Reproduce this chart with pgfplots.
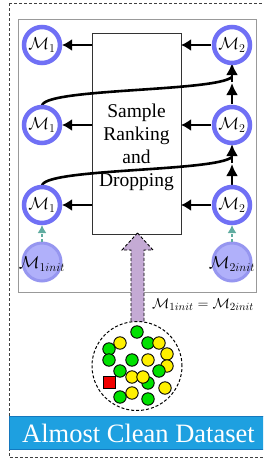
\documentclass[border=0pt]{standalone}
\usepackage[no-math]{fontspec}
\setmainfont{Liberation Serif}
\usepackage{pgfplots}
\pgfplotsset{compat=1.18}
\usetikzlibrary{arrows.meta}
\definecolor{ring}{RGB}{112,112,245}
\definecolor{initfill}{RGB}{176,176,250}
\definecolor{initring}{RGB}{150,150,240}
\definecolor{teal2}{RGB}{95,172,160}
\definecolor{purp}{RGB}{196,170,212}
\definecolor{barblue}{RGB}{30,160,224}
\definecolor{barborder}{RGB}{20,120,190}
\definecolor{dgreen}{RGB}{0,225,0}
\definecolor{dyellow}{RGB}{255,240,0}
\definecolor{dred}{RGB}{240,0,0}
\begin{document}
\begin{tikzpicture}
\begin{axis}[
  width=263pt, height=461pt, scale only axis,
  xmin=0, xmax=263, ymin=0, ymax=461, y dir=reverse,
  hide axis, clip=true,
]
% outer dashed frame
\draw[densely dashed, line width=1pt, black!75] (axis cs:9,3) -- (axis cs:270,3);
\draw[densely dashed, line width=1pt, black!75] (axis cs:9,3) -- (axis cs:9,457) -- (axis cs:270,457);
% inner gray rectangle
\draw[line width=1pt, black!40] (axis cs:18,19) rectangle (axis cs:256,292);
% center box
\draw[line width=1pt, black!80] (axis cs:92,33) rectangle (axis cs:181,234);
\node[align=center, font=\fontsize{19.5}{23}\selectfont] at (axis cs:136.5,147) {Sample\\Ranking\\and\\Dropping};
% horizontal arrows
\pgfplotsinvokeforeach{45,125,205}{
  \draw[line width=2.6pt, -{Latex[length=10pt,width=12pt]}] (axis cs:92,#1) -- (axis cs:62,#1);
  \draw[line width=2.6pt, -{Latex[length=10pt,width=12pt]}] (axis cs:211,#1) -- (axis cs:181,#1);
}
% vertical arrows on M2 column and curves
\draw[line width=2.6pt, -{Latex[length=12pt,width=12pt]}] (axis cs:232,104) -- (axis cs:232,83);
\draw[line width=2.6pt, -{Latex[length=12pt,width=12pt]}] (axis cs:232,82) -- (axis cs:232,63);
\draw[line width=2.6pt] (axis cs:42,106) .. controls (axis cs:42,88) and (axis cs:215,92) .. (axis cs:232,77);
\draw[line width=2.6pt, -{Latex[length=12pt,width=12pt]}] (axis cs:232,185) -- (axis cs:232,164);
\draw[line width=2.6pt, -{Latex[length=12pt,width=12pt]}] (axis cs:232,163) -- (axis cs:232,144);
\draw[line width=2.6pt] (axis cs:42,186) .. controls (axis cs:42,168) and (axis cs:215,172) .. (axis cs:232,157);
% M circles
\pgfplotsinvokeforeach{45,125,205}{
  \node[circle, draw=ring, line width=4.5pt, fill=white, minimum size=36pt, inner sep=0pt, font=\fontsize{18}{18}\selectfont] at (axis cs:42,#1) {$\mathcal{M}_1$};
  \node[circle, draw=ring, line width=4.5pt, fill=white, minimum size=36pt, inner sep=0pt, font=\fontsize{18}{18}\selectfont] at (axis cs:232,#1) {$\mathcal{M}_2$};
}
% init circles
\node[circle, draw=initring, line width=3pt, fill=initfill, minimum size=38pt, inner sep=0pt] at (axis cs:42,262) {};
\node[circle, draw=initring, line width=3pt, fill=initfill, minimum size=38pt, inner sep=0pt] at (axis cs:232,262) {};
\node[font=\fontsize{17}{17}\selectfont, inner sep=0pt] at (axis cs:42,264) {$\mathcal{M}_{1init}$};
\node[font=\fontsize{17}{17}\selectfont, inner sep=0pt] at (axis cs:232,264) {$\mathcal{M}_{2init}$};
% teal dashed arrows
\draw[teal2, line width=2.6pt, dash pattern=on 3pt off 2pt, -{Latex[length=8pt,width=9pt]}] (axis cs:42,242) -- (axis cs:42,225);
\draw[teal2, line width=2.6pt, dash pattern=on 3pt off 2pt, -{Latex[length=8pt,width=9pt]}] (axis cs:232,242) -- (axis cs:232,225);
% purple big arrow
\draw[fill=purp, densely dashed, line width=0.9pt] (axis cs:137.5,233) -- (axis cs:153,250) -- (axis cs:144,250) -- (axis cs:144,323) -- (axis cs:131,323) -- (axis cs:131,250) -- (axis cs:122,250) -- cycle;
\node[anchor=base west, font=\fontsize{15.3}{15.3}\selectfont, inner sep=0pt] at (axis cs:152,308) {$\mathcal{M}_{1init}=\mathcal{M}_{2init}$};
% dataset circle
\draw[densely dashed, line width=1pt, fill=white] (axis cs:137,366) ellipse [x radius=45pt, y radius=44.5pt];
\addplot[only marks, mark=*, mark size=6.2pt, mark options={fill=dgreen, draw=black, line width=0.9pt}] coordinates {
(137,332) (109,349) (148,343) (109,360) (132,360) (120,371) (148,383) (120,397) (148,399)
};
\addplot[only marks, mark=*, mark size=6.2pt, mark options={fill=dyellow, draw=black, line width=0.9pt}] coordinates {
(120,343) (159,343) (167,354) (148,360) (167,366) (132,377) (143,377) (132,393) (165,388)
};
\addplot[only marks, mark=*, mark size=6.2pt, mark options={fill=dgreen, draw=black, line width=0.9pt}] coordinates {
(159,371)
};
\addplot[only marks, mark=square*, mark size=6pt, mark options={fill=dred, draw=black, line width=0.9pt}] coordinates {
(109,382)
};
% bottom bar
\draw[fill=barblue, draw=barborder, line width=1pt] (axis cs:9,416) rectangle (axis cs:270,449);
\node[text=white, font=\fontsize{26.5}{26.5}\selectfont, anchor=base] at (axis cs:138.5,442) {Almost Clean Dataset};
\end{axis}
\pgfresetboundingbox
\path[use as bounding box] (current axis.south west) rectangle (current axis.north east);
\end{tikzpicture}
\end{document}
